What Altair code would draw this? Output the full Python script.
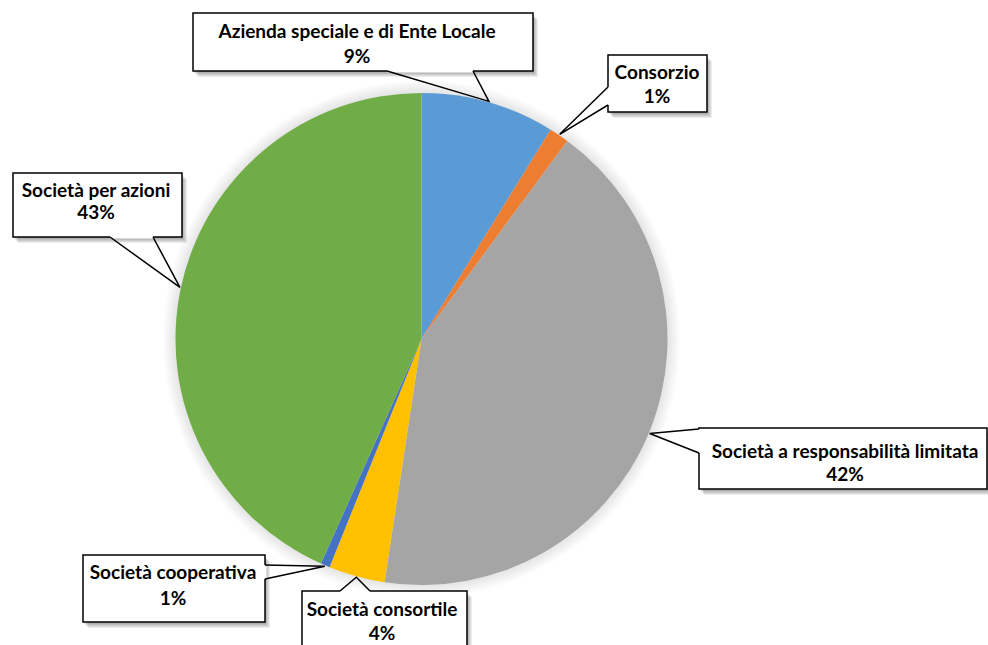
import math
import altair as alt
import pandas as pd

W, H = 988, 645
CX, CY, R = 421.5, 339.0, 246.0

# ---- data ----
categories = [
    "Azienda speciale e di Ente Locale",
    "Consorzio",
    "Società a responsabilità limitata",
    "Società consortile",
    "Società cooperativa",
    "Società per azioni",
]
values = [8.8, 1.3, 42.3, 3.7, 0.6, 43.3]
colors = ["#5B9BD5", "#ED7D31", "#A5A5A5", "#FFC000", "#4472C4", "#70AD47"]

# ---- callout layout (pixels) ----
box_x1 = [193, 608, 699, 302, 83, 13]
box_x2 = [533, 707, 987, 467, 265, 182]
box_y1 = [13, 55, 428, 591, 555, 173]
box_y2 = [71, 112, 489, 660, 622, 237]
base1 = [(387, 71), (608, 87), (699, 429), (340, 591), (265, 565), (110, 237)]
base2 = [(473, 71), (608, 105), (699, 453), (370, 591), (265, 579), (153, 237)]
text_x = [357, 657, 845, 382, 173, 96]
name_y = [32, 73, 452, 610, 573, 191]
pct_y = [56.5, 97, 475, 634, 599, 213]

total = sum(values)
pcts = [f"{round(v / total * 100)}%" for v in values]

pie_df = pd.DataFrame({"cat": categories, "value": values, "idx": list(range(len(values)))})

# tips of callouts: middle of each slice on the pie edge
tips = []
cum = 0.0
for v in values:
    mid = (cum + v / 2) / total * 2 * math.pi
    tips.append((CX + (R + 1) * math.sin(mid), CY - (R + 1) * math.cos(mid)))
    cum += v

box_df = pd.DataFrame({
    "cat": categories, "x1": box_x1, "x2": box_x2, "y1": box_y1, "y2": box_y2,
    "tx": text_x, "ny": name_y, "py": pct_y, "pct": pcts,
})

ptr_rows = []
cover_rows = []
for i, c in enumerate(categories):
    ptr_rows.append({"cat": c, "o": 0, "x": base1[i][0], "y": base1[i][1]})
    ptr_rows.append({"cat": c, "o": 1, "x": tips[i][0], "y": tips[i][1]})
    ptr_rows.append({"cat": c, "o": 2, "x": base2[i][0], "y": base2[i][1]})
    cover_rows.append({"cat": c, "x": base1[i][0], "y": base1[i][1],
                       "x2": base2[i][0], "y2": base2[i][1]})
ptr_df = pd.DataFrame(ptr_rows)
cover_df = pd.DataFrame(cover_rows)

xs = alt.Scale(domain=[0, W], range=[0, W], nice=False, zero=False)
ys = alt.Scale(domain=[0, H], range=[0, H], nice=False, zero=False)

layers = []

# soft glow around the pie
for k in range(1, 14):
    layers.append(
        alt.Chart(pie_df.head(1)).mark_arc(
            outerRadius=R + k, theta=0, theta2=6.2832, color="#000000", opacity=0.009
        ).encode(x=alt.value(CX), y=alt.value(CY))
    )

pie = alt.Chart(pie_df).mark_arc(outerRadius=R, stroke=None).encode(
    theta=alt.Theta("value:Q", stack=True),
    order=alt.Order("idx:Q"),
    color=alt.Color("cat:N", scale=alt.Scale(domain=categories, range=colors), legend=None),
    x=alt.value(CX),
    y=alt.value(CY),
)
layers.append(pie)

# box shadows
for dx, dy in [(1, 2), (2, 3), (3, 4), (4, 5), (5, 6)]:
    sdf = box_df.assign(x1=box_df.x1 + dx, x2=box_df.x2 + dx, y1=box_df.y1 + dy, y2=box_df.y2 + dy)
    layers.append(
        alt.Chart(sdf).mark_rect(color="#000000", opacity=0.07).encode(
            x=alt.X("x1:Q", scale=xs, axis=None), x2="x2:Q",
            y=alt.Y("y1:Q", scale=ys, axis=None), y2="y2:Q",
        )
    )

boxes = alt.Chart(box_df).mark_rect(fill="white", stroke="black", strokeWidth=1.5).encode(
    x=alt.X("x1:Q", scale=xs, axis=None), x2="x2:Q",
    y=alt.Y("y1:Q", scale=ys, axis=None), y2="y2:Q",
)
layers.append(boxes)

cover = alt.Chart(cover_df).mark_rule(color="white", strokeWidth=3).encode(
    x=alt.X("x:Q", scale=xs, axis=None), x2="x2:Q",
    y=alt.Y("y:Q", scale=ys, axis=None), y2="y2:Q",
)
layers.append(cover)

pointers = alt.Chart(ptr_df).mark_line(color="black", strokeWidth=1.5, strokeJoin="miter").encode(
    x=alt.X("x:Q", scale=xs, axis=None),
    y=alt.Y("y:Q", scale=ys, axis=None),
    detail="cat:N",
    order="o:Q",
)
layers.append(pointers)

names = alt.Chart(box_df).mark_text(
    font="Lato", fontWeight="bold", fontSize=19, color="#000000", align="center", baseline="middle"
).encode(
    x=alt.X("tx:Q", scale=xs, axis=None),
    y=alt.Y("ny:Q", scale=ys, axis=None),
    text="cat:N",
)
pctt = alt.Chart(box_df).mark_text(
    font="Lato", fontWeight="bold", fontSize=19, color="#000000", align="center", baseline="middle"
).encode(
    x=alt.X("tx:Q", scale=xs, axis=None),
    y=alt.Y("py:Q", scale=ys, axis=None),
    text="pct:N",
)
layers += [names, pctt]

chart = alt.layer(*layers).properties(
    width=W, height=H, autosize=alt.AutoSizeParams(type="none"), padding=0, background="white"
).configure_view(stroke=None)

chart.save("out.html", embed_options={"renderer": "svg", "actions": False})
